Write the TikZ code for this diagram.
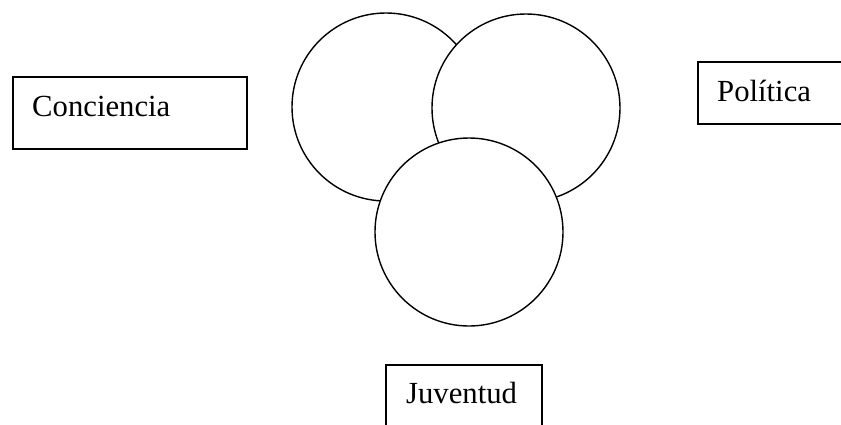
\documentclass[tikz,border=0pt]{standalone}
\usepackage{fontspec}
\setmainfont{Liberation Serif}
\begin{document}
\begin{tikzpicture}[x=1pt,y=-1pt,
  ring/.style={circle,draw=black,fill=white,line width=1.4pt,minimum size=188pt,inner sep=0pt},
  labelbox/.style={rectangle,draw=black,line width=1.6pt,anchor=north west,inner sep=0pt},
  lbl/.style={anchor=base west,inner sep=0pt,font=\fontsize{30.7}{36}\selectfont}]
\useasboundingbox (0,0) rectangle (841,424);
% circles
\node[ring] (cleft) at (386,107) {};
\node[ring] (cright) at (526,108) {};
\node[ring] (cbottom) at (469,232) {};
% boxes
\node[labelbox,minimum width=234pt,minimum height=72pt] (bcon) at (12,76) {};
\node[lbl] (tcon) at (32,116) {Conciencia};
\node[labelbox,minimum width=170pt,minimum height=62pt] (bpol) at (697,61) {};
\node[lbl] (tpol) at (717,101) {Política};
\node[labelbox,minimum width=156pt,minimum height=80pt] (bjuv) at (385,364) {};
\node[lbl] (tjuv) at (406,403) {Juventud};
\end{tikzpicture}
\end{document}
